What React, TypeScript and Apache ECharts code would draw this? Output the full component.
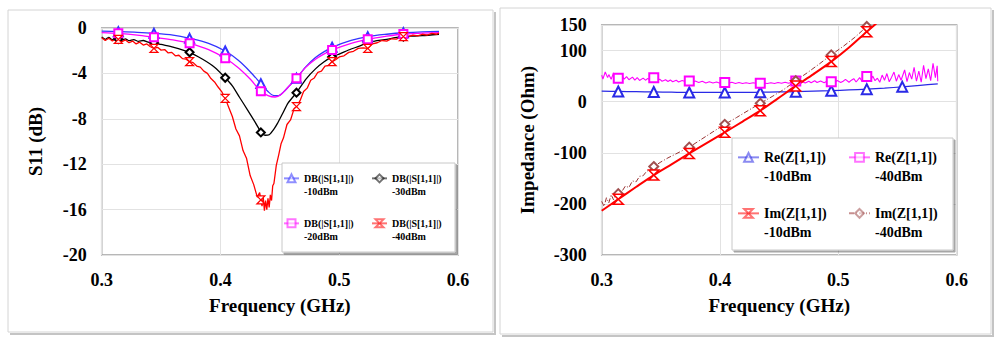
import React, { useEffect, useRef } from "react";
import * as echarts from "echarts";

// ---------- shared ----------
const FREQ_TICKS = { min: 0.3, max: 0.6, interval: 0.1 };
const MARKER_FREQ = [0.314, 0.344, 0.374, 0.404, 0.434, 0.464, 0.494, 0.524, 0.554];

// ---------- left chart: S11 (dB) ----------
const S11_AXIS = { min: -20, max: 0, interval: 4 };

const s11N10: [number, number][] = [
  [0.3, -0.28], [0.33, -0.38], [0.36, -0.63], [0.39, -1.35], [0.415, -2.85], [0.425, -3.85],
  [0.44, -5.6], [0.445, -5.95], [0.449, -5.95], [0.453, -5.65], [0.458, -5.1], [0.472, -3.4],
  [0.48, -2.6], [0.487, -2.1], [0.51, -1.1], [0.54, -0.55], [0.57, -0.35], [0.584, -0.3],
];
const s11N10Markers = [-0.32, -0.47, -0.91, -2.03, -4.9, -4.43, -1.7, -0.76, -0.42];

const s11N20: [number, number][] = [
  [0.3, -0.4], [0.33, -0.62], [0.36, -1.05], [0.39, -1.9], [0.415, -3.5], [0.425, -4.5],
  [0.44, -5.95], [0.446, -6.08], [0.451, -5.85], [0.457, -5.2], [0.472, -3.45], [0.48, -2.75],
  [0.487, -2.3], [0.51, -1.35], [0.54, -0.72], [0.57, -0.45], [0.584, -0.4],
];
const s11N20Markers = [-0.47, -0.82, -1.35, -2.67, -5.57, -4.43, -1.94, -1.0, -0.53];

const s11N30: [number, number][] = [
  [0.3, -0.8], [0.303, -1.0], [0.306, -0.82], [0.309, -1.05], [0.311, -0.9], [0.317, -1.08],
  [0.32, -0.95], [0.323, -1.12], [0.327, -1.02], [0.331, -1.18], [0.335, -1.1], [0.339, -1.25],
  [0.35, -1.45], [0.36, -1.68], [0.385, -2.75], [0.395, -3.45], [0.41, -5.1], [0.416, -6.1],
  [0.423, -7.25], [0.428, -8.1], [0.432, -8.8], [0.4375, -9.45], [0.441, -9.4], [0.445, -8.9],
  [0.448, -8.4], [0.452, -7.6], [0.457, -6.6], [0.472, -4.5], [0.48, -3.6], [0.487, -3.0],
  [0.5, -2.3], [0.51, -1.85], [0.517, -1.6], [0.53, -1.15], [0.54, -1.0], [0.547, -0.85],
  [0.56, -0.72], [0.57, -0.68], [0.584, -0.55],
];
const s11N30Markers = [-0.97, -1.29, -2.14, -4.38, -9.2, -5.7, -2.55, -1.29, -0.76];

const s11N40: [number, number][] = [
  [0.3, -0.85], [0.303, -1.1], [0.306, -0.9], [0.309, -1.15], [0.312, -0.95], [0.317, -1.2],
  [0.32, -1.05], [0.323, -1.3], [0.326, -1.15], [0.329, -1.4], [0.332, -1.25], [0.335, -1.5],
  [0.338, -1.4], [0.341, -1.65], [0.347, -1.7], [0.35, -1.95], [0.353, -1.9], [0.356, -2.2],
  [0.359, -2.15], [0.362, -2.45], [0.365, -2.4], [0.368, -2.7], [0.371, -2.75], [0.377, -3.05],
  [0.38, -3.35], [0.383, -3.45], [0.386, -3.8], [0.389, -4.0], [0.392, -4.45], [0.395, -4.75],
  [0.398, -5.2], [0.401, -5.6], [0.407, -7.0], [0.41, -7.8], [0.413, -8.9], [0.416, -9.5],
  [0.419, -10.8], [0.422, -11.5], [0.425, -13.0], [0.428, -13.8], [0.431, -14.9], [0.433, -14.5],
  [0.435, -15.7], [0.436, -14.9], [0.437, -16.1], [0.438, -15.2], [0.439, -16.0], [0.44, -15.0],
  [0.441, -15.8], [0.442, -14.7], [0.443, -15.2], [0.444, -13.9], [0.445, -13.7], [0.447, -12.1],
  [0.449, -11.2], [0.451, -10.2], [0.453, -9.7], [0.456, -8.5], [0.459, -8.1], [0.462, -7.1],
  [0.467, -6.4], [0.47, -5.6], [0.473, -5.3], [0.476, -4.6], [0.479, -4.4], [0.482, -3.9],
  [0.485, -3.8], [0.488, -3.35], [0.491, -3.3], [0.497, -2.8], [0.5, -2.55], [0.504, -2.45],
  [0.508, -2.15], [0.512, -2.05], [0.516, -1.8], [0.52, -1.75], [0.528, -1.4], [0.532, -1.3],
  [0.536, -1.1], [0.54, -1.15], [0.544, -0.95], [0.548, -0.98], [0.552, -0.8], [0.558, -0.78],
  [0.562, -0.62], [0.566, -0.7], [0.57, -0.55], [0.574, -0.62], [0.578, -0.48], [0.582, -0.55],
  [0.584, -0.45],
];
const s11N40Markers = [-1.0, -1.8, -2.97, -6.2, -15.15, -6.93, -2.97, -1.8, -0.76];

// ---------- right chart: Impedance (Ohm) ----------
const Z_AXIS = { min: -300, max: 150, interval: 100 };

const reN10: [number, number][] = [
  [0.3, 20.5], [0.329, 19.5], [0.359, 18.5], [0.389, 18], [0.419, 18], [0.449, 19],
  [0.479, 20.5], [0.509, 23], [0.539, 26.5], [0.569, 32], [0.584, 35],
];
const reN10Markers = [20, 19, 18, 18, 18.5, 19.5, 21.5, 24.5, 29];

const reN40: [number, number][] = [
  [0.3, 52], [0.301, 44], [0.303, 58], [0.305, 47], [0.306, 53], [0.308, 44], [0.31, 56],
  [0.312, 46], [0.317, 50], [0.319, 44], [0.321, 49], [0.323, 43], [0.326, 48], [0.328, 42],
  [0.33, 47], [0.332, 41.5], [0.335, 46], [0.337, 42], [0.339, 45.5], [0.341, 42], [0.347, 41],
  [0.349, 44], [0.351, 40], [0.354, 43], [0.356, 39.5], [0.358, 42.5], [0.36, 39], [0.363, 42],
  [0.365, 38.5], [0.368, 41.5], [0.371, 39], [0.377, 38], [0.379, 40.5], [0.382, 37.5],
  [0.385, 40], [0.388, 36.5], [0.391, 39], [0.394, 36.5], [0.397, 38.5], [0.4, 36], [0.407, 36],
  [0.41, 38], [0.413, 35.5], [0.416, 37.5], [0.419, 35.5], [0.422, 37], [0.425, 35.5],
  [0.428, 37], [0.431, 35.5], [0.437, 36.5], [0.44, 35.5], [0.443, 37], [0.446, 35.5],
  [0.449, 37.5], [0.452, 36], [0.455, 38], [0.458, 36], [0.461, 38.5], [0.467, 36.5],
  [0.469, 39.5], [0.472, 36.5], [0.475, 40], [0.477, 37], [0.48, 41], [0.482, 37.5],
  [0.485, 40.5], [0.488, 37], [0.491, 41], [0.497, 38], [0.499, 41.5], [0.502, 37.5],
  [0.504, 40], [0.506, 43.5], [0.509, 38], [0.511, 42], [0.513, 45], [0.515, 38.5], [0.518, 47],
  [0.52, 40], [0.522, 44], [0.527, 40], [0.529, 50], [0.531, 41], [0.533, 46], [0.535, 38],
  [0.537, 52], [0.539, 42], [0.541, 55], [0.543, 39], [0.545, 48], [0.547, 58], [0.549, 40],
  [0.551, 53], [0.553, 42], [0.556, 62], [0.558, 39], [0.56, 57], [0.562, 44], [0.564, 67],
  [0.566, 40], [0.568, 60], [0.57, 38], [0.572, 71], [0.574, 45], [0.576, 64], [0.578, 41],
  [0.58, 75], [0.582, 47], [0.5835, 70], [0.584, 40],
];
const reN40Markers = [46, 47, 40.6, 37.3, 36, 40.6, 39, 49, null];

const imN10: [number, number][] = [
  [0.3, -213.5], [0.329, -167], [0.359, -122.5], [0.389, -80.5], [0.419, -39], [0.449, 6.5],
  [0.479, 54], [0.509, 106], [0.534, 157], [0.54, 170],
];
const imN10Markers = [-190.8, -143.7, -101.2, -60, -17.6, 30.8, 78.4, 137, null];

const imN40: [number, number][] = [
  [0.3, -195], [0.302, -205], [0.304, -188], [0.306, -198], [0.308, -182], [0.31, -192],
  [0.312, -178], [0.317, -176], [0.32, -165], [0.323, -168], [0.326, -155], [0.329, -157],
  [0.332, -146], [0.335, -145], [0.338, -136], [0.341, -133], [0.35, -118], [0.356, -110],
  [0.362, -103], [0.368, -96], [0.384, -74], [0.394, -59], [0.414, -31], [0.424, -17],
  [0.444, 10], [0.454, 24], [0.474, 57], [0.484, 74], [0.504, 108], [0.514, 126], [0.53, 160],
];
const imN40Markers = [-180, -127, -89, -44.4, -3.2, 41, 91.5, 147, null];

// ---------- helpers ----------
const SERIF = "Liberation Serif";
const HOURGLASS = "path://M0,0L10,0L0,10L10,10Z";

function buildData(curve: [number, number][], markers: (number | null)[]) {
  const pts: any[] = [];
  curve.forEach(([f, v]) => {
    const dup = MARKER_FREQ.some((m, i) => markers[i] != null && Math.abs(m - f) < 1e-6);
    if (!dup) pts.push({ value: [f, v], symbol: "none" });
  });
  MARKER_FREQ.forEach((f, i) => {
    if (markers[i] != null) pts.push({ value: [f, markers[i]] });
  });
  pts.sort((a, b) => a.value[0] - b.value[0]);
  return pts;
}

function legendItem(name: string, left: number, top: number, fontSize: number, lh: number, iw: number, ih: number) {
  return {
    data: [name],
    left,
    top,
    padding: 0,
    itemWidth: iw,
    itemHeight: ih,
    selectedMode: false,
    orient: "horizontal",
    formatter: (n: string) => {
      const parts = n.split(" ");
      return "\n" + parts[0] + "\n" + parts[1];
    },
    textStyle: { fontFamily: SERIF, fontWeight: "bold", fontSize, lineHeight: lh, color: "#000" },
    itemStyle: { opacity: 0.55 },
    lineStyle: { opacity: 0.55 },
  };
}

const TITLE_STYLE = { fontFamily: SERIF, fontWeight: "bold", fontSize: 19, color: "#000" };

function freqAxis(gridIndex: number) {
  return {
    type: "value",
    gridIndex,
    ...FREQ_TICKS,
    axisLine: { show: false },
    axisTick: { show: false },
    splitLine: { show: true, lineStyle: { color: "#e2e2e2", width: 1 } },
    axisLabel: {
      fontFamily: SERIF, fontWeight: "bold", fontSize: 18, color: "#000", margin: 16,
      formatter: (v: number) => v.toFixed(1),
    },
    name: "Frequency (GHz)",
    nameLocation: "middle",
    nameGap: 41,
    nameTextStyle: TITLE_STYLE,
  };
}

function valueAxis(gridIndex: number, range: any, name: string, nameGap: number) {
  return {
    type: "value",
    gridIndex,
    ...range,
    axisLine: { show: false },
    axisTick: { show: false },
    splitLine: { show: true, lineStyle: { color: "#e2e2e2", width: 1 } },
    axisLabel: { fontFamily: SERIF, fontWeight: "bold", fontSize: 18, color: "#000", margin: 15 },
    name,
    nameLocation: "middle",
    nameGap,
    nameTextStyle: TITLE_STYLE,
  };
}

export default function App() {
  const ref = useRef<HTMLDivElement>(null);
  useEffect(() => {
    if (!ref.current) return;
    const chart = echarts.init(ref.current, undefined, { renderer: "svg" });

    const N10 = "DB(|S[1,1]|) -10dBm";
    const N20 = "DB(|S[1,1]|) -20dBm";
    const N30 = "DB(|S[1,1]|) -30dBm";
    const N40 = "DB(|S[1,1]|) -40dBm";
    const R10 = "Re(Z[1,1]) -10dBm";
    const R40 = "Re(Z[1,1]) -40dBm";
    const I10 = "Im(Z[1,1]) -10dBm";
    const I40 = "Im(Z[1,1]) -40dBm";

    const boxStyle = {
      fill: "#fff", stroke: "#c8c8c8", lineWidth: 1,
      shadowBlur: 1, shadowOffsetX: 2, shadowOffsetY: 2, shadowColor: "rgba(0,0,0,0.35)",
    };

    const option: any = {
      animation: false,
      backgroundColor: "#fff",
      textStyle: { fontFamily: SERIF },
      grid: [
        { left: 101.7, top: 28, width: 356.3, height: 227, show: true, borderColor: "#a0a0a0", borderWidth: 1.5 },
        { left: 601.7, top: 25, width: 355, height: 230, show: true, borderColor: "#a0a0a0", borderWidth: 1.5 },
      ],
      xAxis: [freqAxis(0), freqAxis(1)],
      yAxis: [
        valueAxis(0, S11_AXIS, "S11 (dB)", 57),
        valueAxis(1, Z_AXIS, "Impedance (Ohm)", 65),
      ],
      legend: [
        legendItem(N10, 283, 159.3, 10, 12.7, 15, 10),
        legendItem(N30, 371, 159.3, 10, 12.7, 15, 10),
        legendItem(N20, 283, 204.3, 10, 12.7, 15, 10),
        legendItem(N40, 371, 204.3, 10, 12.7, 15, 10),
        legendItem(R10, 737, 129.3, 14, 18.7, 21, 11),
        legendItem(R40, 848, 129.3, 14, 18.7, 21, 11),
        legendItem(I10, 737, 185.3, 14, 18.7, 21, 11),
        legendItem(I40, 848, 185.3, 14, 18.7, 21, 11),
      ],
      graphic: [
        { type: "rect", z: -1, silent: true, shape: { x: 8, y: 10, width: 485, height: 322 }, style: { fill: "none", stroke: "#d4d4d4", lineWidth: 1 } },
        { type: "polyline", z: -1, silent: true, shape: { points: [[495, 12], [495, 334], [10, 334]] }, style: { fill: "none", stroke: "#c4c4c4", lineWidth: 2 } },
        { type: "rect", z: -1, silent: true, shape: { x: 500, y: 8, width: 491, height: 326 }, style: { fill: "none", stroke: "#d4d4d4", lineWidth: 1 } },
        { type: "polyline", z: -1, silent: true, shape: { points: [[993, 10], [993, 336], [502, 336]] }, style: { fill: "none", stroke: "#c4c4c4", lineWidth: 2 } },
        { type: "rect", z: 3, silent: true, shape: { x: 282, y: 163, width: 173, height: 89 }, style: boxStyle },
        { type: "rect", z: 3, silent: true, shape: { x: 732, y: 138, width: 221, height: 112 }, style: boxStyle },
      ],
      series: [
        {
          name: N10, type: "line", xAxisIndex: 0, yAxisIndex: 0, smooth: 0.3,
          data: buildData(s11N10, s11N10Markers),
          symbol: "emptyTriangle", symbolSize: 9,
          lineStyle: { color: "#3333ff", width: 1.3 },
          itemStyle: { color: "#3333ff", borderWidth: 1.2 },
        },
        {
          name: N30, type: "line", xAxisIndex: 0, yAxisIndex: 0, smooth: 0.2,
          data: buildData(s11N30, s11N30Markers),
          symbol: "emptyDiamond", symbolSize: 8,
          lineStyle: { color: "#000000", width: 1.3 },
          itemStyle: { color: "#000000", borderWidth: 1.1 },
        },
        {
          name: N20, type: "line", xAxisIndex: 0, yAxisIndex: 0, smooth: 0.3,
          data: buildData(s11N20, s11N20Markers),
          symbol: "emptyRect", symbolSize: 8,
          lineStyle: { color: "#ff00ff", width: 1.3 },
          itemStyle: { color: "#ff00ff", borderWidth: 1.2 },
        },
        {
          name: N40, type: "line", xAxisIndex: 0, yAxisIndex: 0,
          data: buildData(s11N40, s11N40Markers),
          symbol: HOURGLASS, symbolSize: 8,
          lineStyle: { color: "#ff0000", width: 1.3 },
          itemStyle: { color: "#ffffff", borderColor: "#ff0000", borderWidth: 1.2 },
        },
        {
          name: R10, type: "line", xAxisIndex: 1, yAxisIndex: 1, smooth: 0.3,
          data: buildData(reN10, reN10Markers),
          symbol: "emptyTriangle", symbolSize: 10,
          lineStyle: { color: "#2a2ae6", width: 1.2 },
          itemStyle: { color: "#2a2ae6", borderWidth: 1.3 },
        },
        {
          name: R40, type: "line", xAxisIndex: 1, yAxisIndex: 1,
          data: buildData(reN40, reN40Markers),
          symbol: "emptyRect", symbolSize: 9,
          lineStyle: { color: "#ff00ff", width: 1.1 },
          itemStyle: { color: "#ff00ff", borderWidth: 1.2 },
        },
        {
          name: I40, type: "line", xAxisIndex: 1, yAxisIndex: 1,
          data: buildData(imN40, imN40Markers),
          symbol: "emptyDiamond", symbolSize: 9,
          lineStyle: { color: "#993333", width: 1, type: [5, 2, 1, 2] },
          itemStyle: { color: "#a05050", borderWidth: 1 },
        },
        {
          name: I10, type: "line", xAxisIndex: 1, yAxisIndex: 1, smooth: 0.3,
          data: buildData(imN10, imN10Markers),
          symbol: HOURGLASS, symbolSize: 10,
          lineStyle: { color: "#ff0000", width: 2 },
          itemStyle: { color: "#ffffff", borderColor: "#ff0000", borderWidth: 1.5 },
        },
      ],
    };
    chart.setOption(option);
    return () => chart.dispose();
  }, []);

  return (
    <div
      ref={ref}
      style={{ position: "fixed", left: 0, top: 0, width: 1000, height: 343, background: "#fff" }}
    />
  );
}
